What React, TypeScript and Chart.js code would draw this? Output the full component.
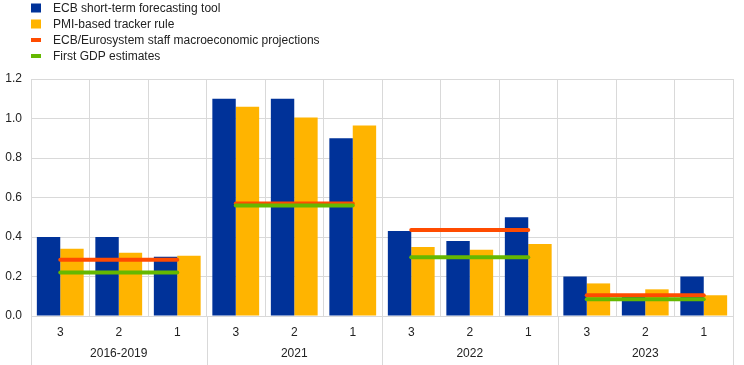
import React, { useEffect, useRef } from 'react';
import { Chart, registerables } from 'chart.js';

Chart.register(...registerables);

// ---- data ----
const groups = ['2016-2019', '2021', '2022', '2023'];
const quarterTicks = ['3', '2', '1'];
const stfTool = [0.40, 0.40, 0.30, 1.10, 1.10, 0.90, 0.43, 0.38, 0.50, 0.20, 0.10, 0.20];
const pmiTracker = [0.34, 0.32, 0.305, 1.06, 1.005, 0.965, 0.35, 0.335, 0.365, 0.165, 0.135, 0.105];
const staffProjections = [0.285, 0.57, 0.435, 0.105];
const firstGdp = [0.22, 0.56, 0.298, 0.085];
const seriesNames = [
  'ECB short-term forecasting tool',
  'PMI-based tracker rule',
  'ECB/Eurosystem staff macroeconomic projections',
  'First GDP estimates',
];
const yMin = 0;
const yMax = 1.2;
const yStep = 0.2;

// ---- style ----
const BLUE = '#003299';
const YELLOW = '#FFB400';
const ORANGE = '#FF4B00';
const GREEN = '#65B800';
const GRID = '#d9d9d9';
const TEXT = '#222222';
const FONT = 'Arial, "Liberation Sans", sans-serif';

const labels = groups.flatMap(() => quarterTicks);
const expand = (arr: number[]) => arr.flatMap((v) => quarterTicks.map(() => v));

const groupPlugin = {
  id: 'groupPlugin',
  afterDraw(chart: any) {
    const { ctx, chartArea, scales } = chart;
    const x = scales.x;
    const total = labels.length;
    const per = quarterTicks.length;
    const w = (x.right - x.left) / total;
    ctx.save();
    // extended group separators
    ctx.strokeStyle = GRID;
    ctx.lineWidth = 1;
    for (let g = 0; g <= groups.length; g++) {
      const px = Math.round(x.left + g * per * w) + 0.5;
      ctx.beginPath();
      ctx.moveTo(px, chartArea.bottom);
      ctx.lineTo(px, chart.height);
      ctx.stroke();
    }
    // group labels
    ctx.fillStyle = TEXT;
    ctx.font = `12px ${FONT}`;
    ctx.textAlign = 'center';
    ctx.textBaseline = 'middle';
    groups.forEach((g, i) => {
      const cx = x.left + (i * per + per / 2) * w;
      ctx.fillText(g, cx, chartArea.bottom + 38);
    });
    // legend
    const colors = [BLUE, YELLOW, ORANGE, GREEN];
    seriesNames.forEach((name, i) => {
      const cy = 8 + i * 16;
      ctx.fillStyle = colors[i];
      if (i < 2) {
        ctx.fillRect(31, cy - 4.5, 10, 9);
      } else {
        ctx.fillRect(31, cy - 2, 10, 4);
      }
      ctx.fillStyle = TEXT;
      ctx.textAlign = 'left';
      ctx.fillText(name, 53, cy + 0.5);
    });
    ctx.restore();
  },
};

export default function App() {
  const ref = useRef<HTMLCanvasElement | null>(null);
  useEffect(() => {
    if (!ref.current) return;
    const segColor = (color: string) => (ctx: any) =>
      ctx.p0DataIndex % quarterTicks.length === quarterTicks.length - 1 ? 'rgba(0,0,0,0)' : color;
    const chart = new Chart(ref.current, {
      type: 'bar',
      data: {
        labels,
        datasets: [
          {
            type: 'line',
            label: seriesNames[3],
            data: expand(firstGdp),
            borderColor: GREEN,
            backgroundColor: GREEN,
            borderWidth: 4,
            pointRadius: 0,
            borderCapStyle: 'round',
            segment: { borderColor: segColor(GREEN) },
            order: 0,
          } as any,
          {
            type: 'line',
            label: seriesNames[2],
            data: expand(staffProjections),
            borderColor: ORANGE,
            backgroundColor: ORANGE,
            borderWidth: 4,
            pointRadius: 0,
            borderCapStyle: 'round',
            segment: { borderColor: segColor(ORANGE) },
            order: 1,
          } as any,
          {
            type: 'bar',
            label: seriesNames[0],
            data: stfTool,
            backgroundColor: BLUE,
            categoryPercentage: 0.8,
            barPercentage: 1,
            order: 2,
          },
          {
            type: 'bar',
            label: seriesNames[1],
            data: pmiTracker,
            backgroundColor: YELLOW,
            categoryPercentage: 0.8,
            barPercentage: 1,
            order: 2,
          },
        ],
      },
      options: {
        animation: false,
        responsive: true,
        maintainAspectRatio: false,
        layout: { padding: { top: 79, right: 11, left: 0, bottom: 0 } },
        plugins: {
          legend: { display: false },
          tooltip: { enabled: false },
        },
        scales: {
          x: {
            grid: { color: GRID, drawTicks: false, offset: true },
            border: { display: false },
            ticks: { color: TEXT, font: { family: FONT, size: 12 }, padding: 9, maxRotation: 0 },
            afterFit: (s: any) => {
              s.height = 49;
            },
          },
          y: {
            min: yMin,
            max: yMax,
            grid: { color: GRID, drawTicks: false },
            border: { display: false },
            ticks: {
              stepSize: yStep,
              color: TEXT,
              font: { family: FONT, size: 12 },
              padding: 9,
              callback: (v: any) => Number(v).toFixed(1),
            },
            afterFit: (s: any) => {
              s.width = 31;
            },
          },
        },
      },
      plugins: [groupPlugin],
    });
    return () => chart.destroy();
  }, []);
  return (
    <div style={{ position: 'fixed', left: 0, top: 0, width: 744, height: 365, background: '#fff' }}>
      <canvas ref={ref} />
    </div>
  );
}
